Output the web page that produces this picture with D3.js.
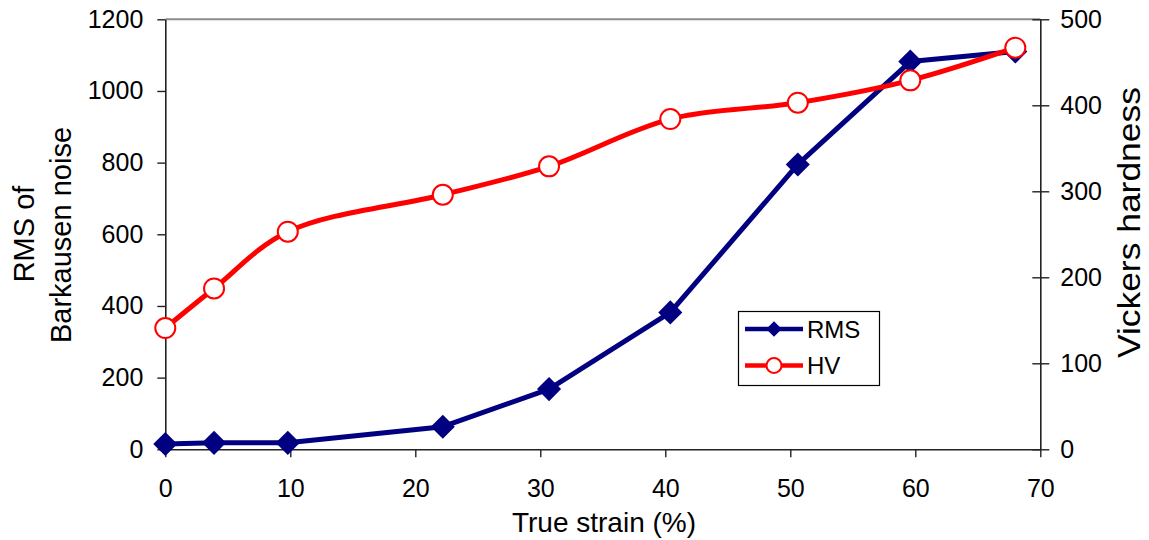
<!DOCTYPE html>
<html>
<head>
<meta charset="utf-8">
<script src="https://cdn.jsdelivr.net/npm/d3@7"></script>
<style>
  body { margin: 0; background: #fff; }
  svg { display: block; font-family: "Liberation Sans", Arial, sans-serif; }
</style>
</head>
<body>
<svg id="chart" width="1149" height="540"></svg>
<script>
// data
var strain = [0, 3.9, 9.8, 22.2, 30.7, 40.4, 50.6, 59.6, 68];
var rms = [15, 18, 18, 63, 168, 382, 795, 1082, 1110];
var hv = [141, 187, 253, 296, 329, 384, 403, 429, 467];
var xTicks = [0, 10, 20, 30, 40, 50, 60, 70];
var leftTicks = [0, 200, 400, 600, 800, 1000, 1200];
var rightTicks = [0, 100, 200, 300, 400, 500];
var seriesNames = ["RMS", "HV"];

var svg = d3.select("#chart")
  , plotLeft = 165.3
  , plotRight = 1040.3
  , plotTop = 19.3
  , plotBottom = 449.3
  , navy = "#000080"
  , red = "#ff0000";

var x = d3.scaleLinear().domain([0, 70]).range([plotLeft, plotRight]);
var yL = d3.scaleLinear().domain([0, 1200]).range([plotBottom, plotTop]);
var yR = d3.scaleLinear().domain([0, 500]).range([plotBottom, plotTop]);

svg.append("rect").attr("width", 1149).attr("height", 540).attr("fill", "white");

// top border of plot area
svg.append("line")
  .attr("x1", plotLeft).attr("x2", plotRight)
  .attr("y1", plotTop).attr("y2", plotTop)
  .attr("stroke", "#8c8c8c").attr("stroke-width", 2);

// axes
var gx = svg.append("g")
  .attr("transform", "translate(0," + plotBottom + ")")
  .call(d3.axisBottom(x).tickValues(xTicks).tickFormat(d3.format("d"))
    .tickSize(8).tickSizeOuter(0).tickPadding(22));

var gl = svg.append("g")
  .attr("transform", "translate(" + plotLeft + ",0)")
  .call(d3.axisLeft(yL).tickValues(leftTicks).tickFormat(d3.format("d"))
    .tickSize(8).tickSizeOuter(0).tickPadding(14));

var gr = svg.append("g")
  .attr("transform", "translate(" + plotRight + ",0)")
  .call(d3.axisRight(yR).tickValues(rightTicks).tickFormat(d3.format("d"))
    .tickSize(9).tickSizeOuter(0).tickPadding(11));
gr.selectAll(".tick line").attr("x1", -8);

[gx, gl, gr].forEach(function (g) {
  g.selectAll("path.domain").attr("stroke", "#222").attr("stroke-width", 1.6);
  g.selectAll(".tick line").attr("stroke", "#222").attr("stroke-width", 1.4);
  g.selectAll(".tick text")
    .attr("font-size", "25px")
    .attr("fill", "#000")
    .attr("font-family", "Liberation Sans, Arial, sans-serif");
});

// axis titles
svg.append("text")
  .attr("x", 604).attr("y", 532)
  .attr("text-anchor", "middle")
  .attr("font-size", "28px")
  .text("True strain (%)");

svg.append("text")
  .attr("transform", "translate(34.3,234) rotate(-90)")
  .attr("text-anchor", "middle")
  .attr("font-size", "29px")
  .text("RMS of");

svg.append("text")
  .attr("transform", "translate(70.5,235) rotate(-90)")
  .attr("text-anchor", "middle")
  .attr("font-size", "29px")
  .text("Barkausen noise");

svg.append("text")
  .attr("transform", "translate(1140,222.6) rotate(-90)")
  .attr("text-anchor", "middle")
  .attr("font-size", "31px")
  .attr("textLength", 271)
  .attr("lengthAdjust", "spacingAndGlyphs")
  .text("Vickers hardness");

// series
var rmsPts = strain.map(function (s, i) { return [x(s), yL(rms[i])]; });
var hvPts = strain.map(function (s, i) { return [x(s), yR(hv[i])]; });

var straight = d3.line();
var smooth = d3.line().curve(d3.curveCatmullRom.alpha(0.5));

var diamond = d3.symbol().type(d3.symbolSquare).size(290);

svg.append("path")
  .attr("d", straight(rmsPts))
  .attr("fill", "none")
  .attr("stroke", navy)
  .attr("stroke-width", 5)
  .attr("stroke-linejoin", "round");

svg.append("g").selectAll("path")
  .data(rmsPts)
  .join("path")
  .attr("d", diamond)
  .attr("transform", function (d) { return "translate(" + d[0] + "," + d[1] + ") rotate(45)"; })
  .attr("fill", navy);

svg.append("path")
  .attr("d", smooth(hvPts))
  .attr("fill", "none")
  .attr("stroke", red)
  .attr("stroke-width", 5);

svg.append("g").selectAll("circle")
  .data(hvPts)
  .join("circle")
  .attr("cx", function (d) { return d[0]; })
  .attr("cy", function (d) { return d[1]; })
  .attr("r", 10)
  .attr("fill", "white")
  .attr("stroke", red)
  .attr("stroke-width", 2);

// legend
var legend = svg.append("g");
legend.append("rect")
  .attr("x", 738.5).attr("y", 311.5)
  .attr("width", 141).attr("height", 74)
  .attr("fill", "white")
  .attr("stroke", "#000").attr("stroke-width", 1.2);

var rows = legend.selectAll("g.row")
  .data(seriesNames)
  .join("g")
  .attr("class", "row")
  .attr("transform", function (d, i) { return "translate(0," + (329 + i * 36.5) + ")"; });

rows.append("line")
  .attr("x1", 745).attr("x2", 803)
  .attr("stroke", function (d, i) { return i ? red : navy; })
  .attr("stroke-width", 4.5);

rows.filter(function (d, i) { return i === 0; })
  .append("path")
  .attr("d", d3.symbol().type(d3.symbolSquare).size(120))
  .attr("transform", "translate(774,0) rotate(45)")
  .attr("fill", navy);

rows.filter(function (d, i) { return i === 1; })
  .append("circle")
  .attr("cx", 774).attr("r", 7.5)
  .attr("fill", "white")
  .attr("stroke", red).attr("stroke-width", 2);

rows.append("text")
  .attr("x", 807).attr("dy", "0.36em")
  .attr("font-size", "24px")
  .text(function (d) { return d; });
</script>
</body>
</html>
